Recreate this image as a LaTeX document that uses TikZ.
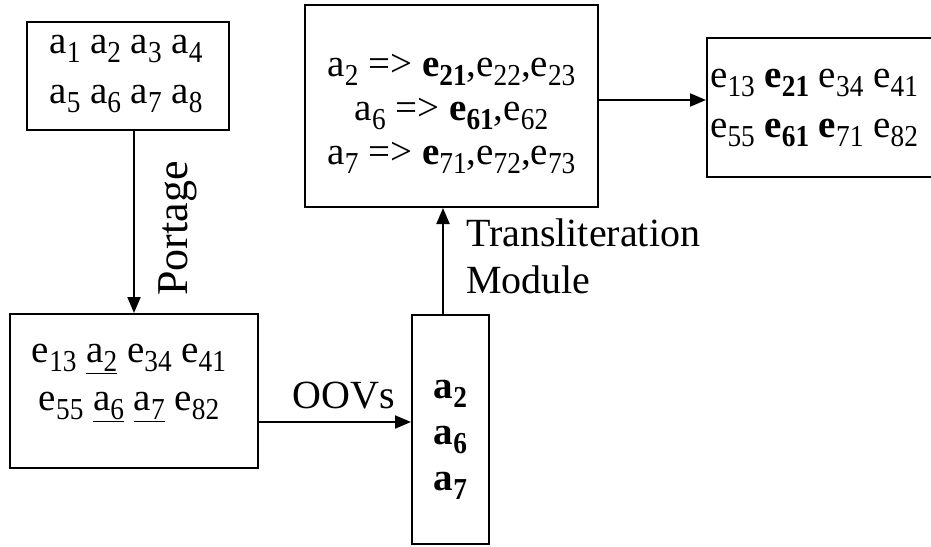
\documentclass[tikz,border=0pt]{standalone}
\usepackage{fontspec}
\setmainfont{Liberation Serif}
\usetikzlibrary{arrows.meta, calc}
\newcommand{\idx}[1]{\raisebox{-9pt}{\scalebox{0.7}[0.78]{#1}}}

\begin{document}
\begin{tikzpicture}[x=1pt, y=-1pt,
    box/.style={draw, line width=2pt, inner sep=0pt},
    txt/.style={font=\fontsize{39}{#1}\selectfont, align=center, inner sep=0pt},
    lbl/.style={font=\fontsize{40}{47}\selectfont, inner sep=0pt},
    arr/.style={line width=2pt, -{Triangle[length=16pt, width=13pt]}}
]
    \useasboundingbox (0,0) rectangle (931,546);
    \clip (0,0) rectangle (931,546);
    % boxes
    \node[box, minimum width=202pt, minimum height=108pt] (srcbox) at (128,76) {};
    \node[box, minimum width=248pt, minimum height=154pt] (mtbox) at (134,391) {};
    \node[box, minimum width=77pt, minimum height=229pt] (oovbox) at (450.5,429.5) {};
    \node[box, minimum width=293pt, minimum height=202pt] (candbox) at (451.5,106) {};
    \node[box, minimum width=260pt, minimum height=139pt] (outbox) at (837,107.5) {};
    % contents
    \node[txt=50] (srctxt) at ($(srcbox.center)+(-2,-2)$) {a\idx{1} a\idx{2} a\idx{3} a\idx{4}\\a\idx{5} a\idx{6} a\idx{7} a\idx{8}};
    \node[txt=48] (mttxt) at ($(mtbox.center)+(-5,-8)$) {e\idx{13} \underline{a\idx{2}} e\idx{34} e\idx{41}\\e\idx{55} \underline{a\idx{6}} \underline{a\idx{7}} e\idx{82}};
    \node[txt=46] (oovtxt) at ($(oovbox.center)+(0,10)$) {\textbf{a\idx{2}}\\\textbf{a\idx{6}}\\\textbf{a\idx{7}}};
    \node[txt=44] (candtxt) at ($(candbox.center)+(0,8)$) {a\idx{2} => \textbf{e\idx{21}},e\idx{22},e\idx{23}\\a\idx{6} => \textbf{e\idx{61}},e\idx{62}\\a\idx{7} => \textbf{e}\idx{71},e\idx{72},e\idx{73}};
    \node[txt=50, align=left, anchor=west] (outtxt) at ($(outbox.west)+(4,0)$) {e\idx{13} \textbf{e\idx{21}} e\idx{34} e\idx{41}\\e\idx{55} \textbf{e\idx{61}} \textbf{e}\idx{71} e\idx{82}};
    % connectors
    \draw[arr] (srcbox.south -| mtbox.north) -- (mtbox.north);
    \node[lbl, font=\fontsize{44}{44}\selectfont, rotate=90, anchor=north] (portlbl) at ($(srcbox.south -| mtbox.north)!0.535!(mtbox.north)+(24,0)$) {Portage};
    \draw[arr] ([yshift=-31pt]mtbox.east) -- ([yshift=-31pt]mtbox.east -| oovbox.west)
        node[lbl, midway, above, xshift=9pt, yshift=12pt] (oovlbl) {OOVs};
    \draw[arr] ([xshift=-7.5pt]oovbox.north) -- ([xshift=-7.5pt]oovbox.north |- candbox.south)
        node[lbl, midway, right, align=left, xshift=22pt, yshift=5pt] (modlbl) {Transliteration\\Module};
    \draw[arr] ([yshift=6pt]candbox.east) -- ([yshift=6pt]candbox.east -| outbox.west);
\end{tikzpicture}
\end{document}
